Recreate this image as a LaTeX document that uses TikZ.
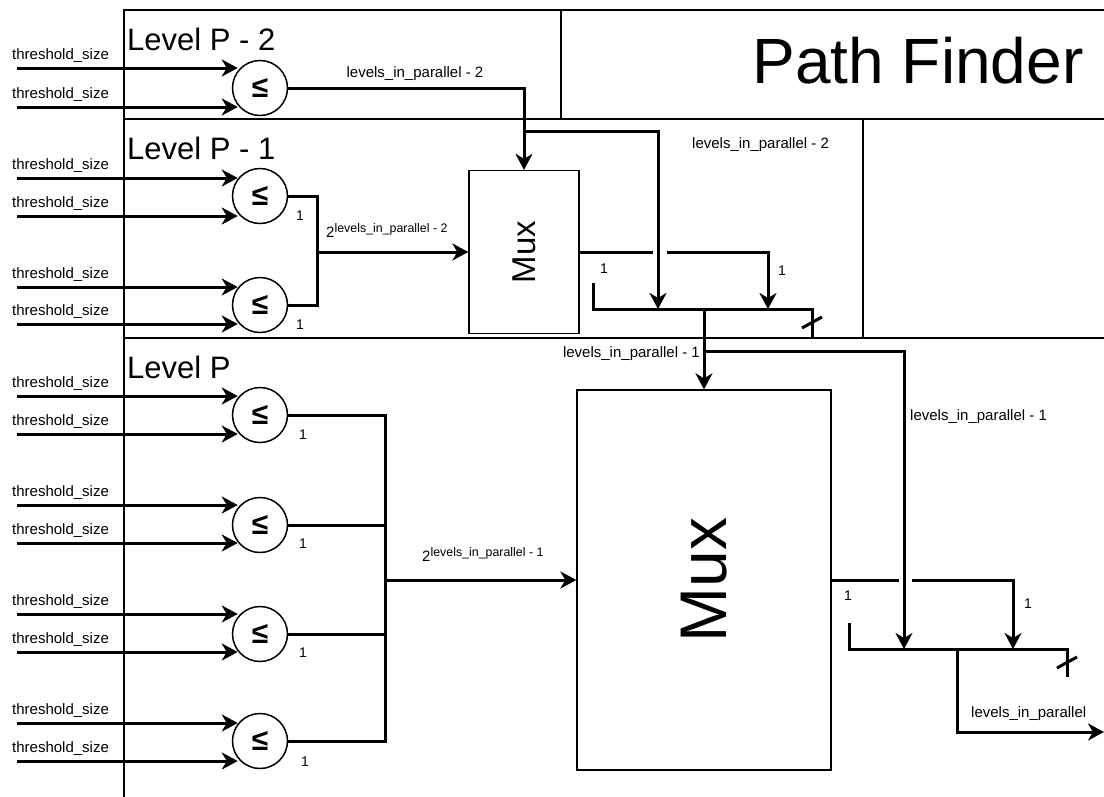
\documentclass[tikz,border=0pt]{standalone}
\usepackage{fontspec}
\setmainfont{Liberation Sans}
\usetikzlibrary{arrows.meta}
\newcommand{\fs}[1]{\fontsize{#1}{#1}\selectfont}

\begin{document}
\begin{tikzpicture}[x=1pt, y=-1pt,
  frame/.style={line width=1.3pt},
  wire/.style={line width=3pt},
  arr/.style={wire, -{Stealth[length=16pt, width=17pt, inset=5pt]}},
  inp/.style={arr, shorten >=-6pt},
  cmp/.style={circle, draw, line width=1.5pt, minimum size=55pt, inner sep=0pt, font=\fs{30}\bfseries},
  mux/.style={draw, line width=1.3pt, inner sep=0pt},
  lbl/.style={font=\fs{15}, inner sep=0pt, text height=10.8pt, text depth=0pt, anchor=west},
  one/.style={font=\fs{14}, inner sep=0pt, text height=10pt, text depth=0pt},
  lvl/.style={font=\fs{31}, inner sep=0pt, text height=22.2pt, text depth=0pt, anchor=west}]
\useasboundingbox (0,0) rectangle (1104,796);
\clip (0,0) rectangle (1104,796);
% frames
\draw[frame] (124,10) rectangle (561,119);
\draw[frame] (561,10) rectangle (1120,119);
\draw[frame] (124,119) rectangle (863,338);
\draw[frame] (124,338) rectangle (1120,820);
\node[lvl] at (127,39.5) {Level P - 2};
\node[lvl] at (127,148) {Level P - 1};
\node[lvl] at (127,367) {Level P};
\node[font=\fs{64}, inner sep=0pt, text height=46pt, text depth=0pt] at (918,60) {Path Finder};

% level P - 2
\node[cmp] (c1) at (260,88) {≤};
\node[lbl] at (12,54) {threshold\_size};
\node[lbl] at (12,93) {threshold\_size};
\draw[inp] (17,68) -- (c1.west |- 0,68);
\draw[inp] (17,107) -- (c1.west |- 0,107);

% level P - 1
\node[cmp] (c2) at (260,196) {≤};
\node[cmp] (c3) at (260,305) {≤};
\node[lbl] at (12,164) {threshold\_size};
\node[lbl] at (12,202) {threshold\_size};
\node[lbl] at (12,273) {threshold\_size};
\node[lbl] at (12,310) {threshold\_size};
\draw[inp] (17,178) -- (c2.west |- 0,178);
\draw[inp] (17,216) -- (c2.west |- 0,216);
\draw[inp] (17,287) -- (c3.west |- 0,287);
\draw[inp] (17,324) -- (c3.west |- 0,324);
\node[one] at (300,215) {1};
\node[one] at (300,324) {1};
\node[mux, minimum width=110pt, minimum height=163pt, font=\fs{33}] (m1) at (524,252) {\rotatebox{90}{Mux}};

% level P
\node[cmp] (c4) at (260,415) {≤};
\node[cmp] (c5) at (260,525) {≤};
\node[cmp] (c6) at (260,634) {≤};
\node[cmp] (c7) at (260,741) {≤};
\node[lbl] at (12,382) {threshold\_size};
\node[lbl] at (12,420) {threshold\_size};
\node[lbl] at (12,491) {threshold\_size};
\node[lbl] at (12,529) {threshold\_size};
\node[lbl] at (12,600) {threshold\_size};
\node[lbl] at (12,638) {threshold\_size};
\node[lbl] at (12,709) {threshold\_size};
\node[lbl] at (12,747) {threshold\_size};
\draw[inp] (17,396) -- (c4.west |- 0,396);
\draw[inp] (17,434) -- (c4.west |- 0,434);
\draw[inp] (17,505) -- (c5.west |- 0,505);
\draw[inp] (17,543) -- (c5.west |- 0,543);
\draw[inp] (17,614) -- (c6.west |- 0,614);
\draw[inp] (17,652) -- (c6.west |- 0,652);
\draw[inp] (17,723) -- (c7.west |- 0,723);
\draw[inp] (17,761) -- (c7.west |- 0,761);
\node[one] at (303,434) {1};
\node[one] at (303,543) {1};
\node[one] at (303,652) {1};
\node[one] at (305,761) {1};
\node[mux, minimum width=254pt, minimum height=380pt, font=\fs{66}] (m2) at (704,580) {\rotatebox{90}{Mux}};

% P - 2 into P - 1
\coordinate (j1) at (524,131);
\coordinate (d1) at (658,309);
\draw[arr] (c1.east) -| (m1.north);
\draw[arr] (j1) -| (d1);
\node[lbl, anchor=center] at (415,72) {levels\_in\_parallel - 2};
\node[lbl] at (692,143) {levels\_in\_parallel - 2};

% P - 1 comparators and mux
\coordinate (s1) at (317,252);
\draw[wire] (c2.east) -| (s1) |- (c3.east);
\draw[arr] (s1) -- (m1.west);
\node[lbl] at (326,232) {2\raisebox{5pt}{\fs{12.4}levels\_in\_parallel - 2}};
\coordinate (g1) at (653,252);
\coordinate (g2) at (667,252);
\coordinate (d2) at (768,309);
\draw[wire] (m1.east) -- (g1);
\draw[arr] (g2) -| (d2);
\node[one] at (604,268) {1};
\node[one] at (782,270) {1};
\coordinate (b1) at (593,283);
\coordinate (b2) at (812,309);
\draw[wire] (b1) |- (b2) -- ++(0,29);
\draw[wire] (802,328) -- (822,317);

% P - 1 into P
\coordinate (j2) at (704,351);
\coordinate (d3) at (904,649);
\draw[arr] (m2.north |- b2) -- (m2.north);
\draw[arr] (j2) -| (d3);
\node[lbl, anchor=east] at (700,352) {levels\_in\_parallel - 1};
\node[lbl] at (910,415) {levels\_in\_parallel - 1};

% P comparators and mux
\coordinate (s2) at (385,580);
\draw[wire] (c4.east) -| (s2) |- (c7.east);
\draw[wire] (c5.east) -- (c5.east -| s2);
\draw[wire] (c6.east) -- (c6.east -| s2);
\draw[arr] (s2) -- (m2.west);
\node[lbl] at (422,556) {2\raisebox{5pt}{\fs{12.4}levels\_in\_parallel - 1}};
\coordinate (g3) at (899,580);
\coordinate (g4) at (912,580);
\coordinate (d4) at (1013,649);
\draw[wire] (m2.east) -- (g3);
\draw[arr] (g4) -| (d4);
\node[one] at (848,595) {1};
\node[one] at (1028,603) {1};
\coordinate (b3) at (849,623);
\coordinate (b4) at (1067,649);
\coordinate (out) at (1104,732);
\draw[wire] (b3) |- (b4) -- ++(0,28);
\draw[wire] (1057,668) -- (1077,657);
\draw[arr] (957,649) |- (out);
\node[lbl] at (971,712) {levels\_in\_parallel};
\end{tikzpicture}
\end{document}
